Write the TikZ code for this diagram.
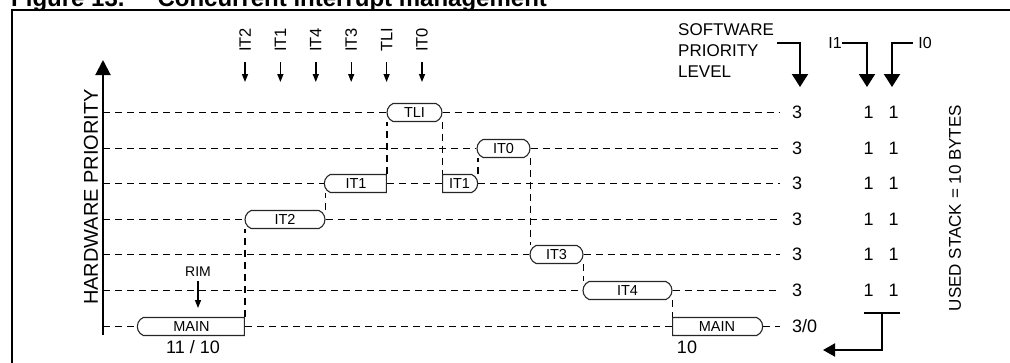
\documentclass[tikz,border=0pt]{standalone}
\usepackage{fontspec}
\setmainfont{Liberation Sans}
\usetikzlibrary{arrows.meta,shapes.misc,calc}
\begin{document}
\begin{tikzpicture}[x=1pt,y=-1pt,
  task/.style={draw=black!85, line width=1.1pt, rounded rectangle, rounded rectangle arc length=135,
    inner sep=0pt, minimum height=18pt, font=\fontsize{14.5}{16}\selectfont},
  sqwest/.style={rounded rectangle west arc=none},
  sqeast/.style={rounded rectangle east arc=none},
  lvl/.style={dash pattern=on 7pt off 5pt, line width=1.8pt},
  frameline/.style={line width=2pt},
  bigarrow/.style={line width=2pt, -{Triangle[width=16pt,length=13pt]}},
  evarrow/.style={line width=1.4pt, -{Triangle[width=6pt,length=8pt]}},
  lbl/.style={font=\fontsize{16}{19}\selectfont, inner sep=0pt},
  num/.style={font=\fontsize{18}{20}\selectfont, inner sep=0pt},
]
\useasboundingbox (0,0) rectangle (1010,362);

% title (clipped by page top)
\node[anchor=base west, inner sep=0pt, font=\fontsize{24}{26}\selectfont\bfseries] (title) at (11,6)
  {Figure 13.\hspace{33pt}Concurrent interrupt management};

% frame
\coordinate (fbl) at (12,366);
\coordinate (ftl) at (12,10);
\coordinate (ftr) at (1014,10);
\draw[frameline] (fbl) -- (ftl) -- (ftr);

% hardware priority axis
\coordinate (axb) at (103,335);
\coordinate (axt) at (103,60);
\draw[line width=2pt, -{Triangle[width=15pt,length=15pt]}] (axb) -- (axt);
\node[lbl, font=\fontsize{20}{22}\selectfont, rotate=90] (hwp) at (91,197) {HARDWARE PRIORITY};

% level axis and end coordinates
\foreach \i/\y in {1/112.5,2/148.5,3/183.5,4/219.5,5/254.5,6/290.5,7/326.5}{
  \coordinate (ax\i) at (103,\y);
  \coordinate (ex\i) at (780,\y);
}

% task boxes
\node[task, sqeast, minimum width=107pt] (main1) at (191.5,326.5) {MAIN};
\node[task, minimum width=80pt] (it2) at (285,219.5) {IT2};
\node[task, sqeast, minimum width=62pt] (it1a) at (356,183.5) {IT1};
\node[task, minimum width=55pt] (tli) at (414.5,112.5) {TLI};
\node[task, sqwest, minimum width=35pt] (it1b) at (459.5,183.5) {IT1};
\node[task, minimum width=53pt] (it0) at (503.5,148.5) {IT0};
\node[task, minimum width=53pt] (it3) at (556.5,254.5) {IT3};
\node[task, minimum width=89pt] (it4) at (627.5,290.5) {IT4};
\node[task, sqwest, minimum width=90pt] (main2) at (717,326.5) {MAIN};

% dashed levels
\draw[lvl] (ax1) -- (tli.west);   \draw[lvl] (tli.east) -- (ex1);
\draw[lvl] (ax2) -- (it0.west);   \draw[lvl] (it0.east) -- (ex2);
\draw[lvl] (ax3) -- (it1a.west);  \draw[lvl] (it1a.east) -- (it1b.west); \draw[lvl] (it1b.east) -- (ex3);
\draw[lvl] (ax4) -- (it2.west);   \draw[lvl] (it2.east) -- (ex4);
\draw[lvl] (ax5) -- (it3.west);   \draw[lvl] (it3.east) -- (ex5);
\draw[lvl] (ax6) -- (it4.west);   \draw[lvl] (it4.east) -- (ex6);
\draw[lvl] (ax7) -- (main1.west); \draw[lvl] (main1.east) -- (main2.west); \draw[lvl] (main2.east) -- (ex7);

% vertical dashed transitions
\draw[lvl] (main1.east |- main1.north) -- (main1.east |- it2.south);
\draw[lvl] (it2.east |- it2.north) -- (it2.east |- it1a.south);
\draw[lvl] (it1a.east |- it1a.north) -- (it1a.east |- tli.south);
\draw[lvl] (tli.east |- tli.south) -- (tli.east |- it1b.north);
\draw[lvl] (it1b.east |- it1b.north) -- (it1b.east |- it0.south);
\draw[lvl] (it0.east |- it0.south) -- (it0.east |- it3.north);
\draw[lvl] (it3.east |- it3.south) -- (it3.east |- it4.north);
\draw[lvl] (it4.east |- it4.south) -- (it4.east |- main2.north);

% interrupt events on top
\foreach \n/\t/\x in {e1/IT2/245, e2/IT1/280.4, e3/IT4/315.8, e4/IT3/351.2, e5/TLI/386.6, e6/IT0/422}{
  \node[lbl, font=\fontsize{16.5}{19}\selectfont, rotate=90] (\n) at (\x,40) {\t};
  \coordinate (\n s) at (\x,62);
  \coordinate (\n t) at (\x,82);
  \draw[evarrow] (\n s) -- (\n t);
}

% RIM
\node[lbl, font=\fontsize{14}{16}\selectfont] (rim) at (198,272) {RIM};
\coordinate (rims) at (198,281);
\coordinate (rimt) at (198,308);
\draw[evarrow] (rims) -- (rimt);

% bottom labels
\node[num] (n1110) at (193,347.5) {11 / 10};
\node[num] (n10) at (687,347.5) {10};

% software priority level
\node[lbl, font=\fontsize{17}{21}\selectfont, align=left, anchor=west] (sw) at (678,51) {SOFTWARE\\PRIORITY\\LEVEL};
\coordinate (swa) at (777,43);
\coordinate (swt) at (800,87);
\draw[bigarrow] (swa) -| (swt);

% I1 / I0
\node[lbl] (i1) at (835,43) {I1};
\coordinate (i1t) at (867,87);
\draw[bigarrow] (i1.east) -| (i1t);
\node[lbl] (i0) at (925,43) {I0};
\coordinate (i0a) at (913,43);
\coordinate (i0t) at (892,87);
\draw[bigarrow] (i0a) -| (i0t);

% values per level
\foreach \i/\y in {1/112.5,2/148.5,3/183.5,4/219.5,5/254.5,6/290.5}{
  \node[num, anchor=west] (sp\i) at (792,\y) {3};
  \node[num] (ia\i) at (868.5,\y) {1};
  \node[num] (ib\i) at (893.5,\y) {1};
}
\node[num, anchor=west] (sp7) at (792,326.5) {3/0};

% bracket back to 3/0
\coordinate (br1) at (864,313);
\coordinate (br2) at (900,313);
\coordinate (brm) at (882,313);
\coordinate (brt) at (823,350);
\draw[frameline] (br1) -- (br2);
\draw[line width=2pt, -{Triangle[width=13pt,length=12pt]}] (brm) |- (brt);

% used stack
\node[lbl, font=\fontsize{17}{19}\selectfont, rotate=90] (stack) at (955,208) {USED STACK = 10 BYTES};
\end{tikzpicture}
\end{document}
